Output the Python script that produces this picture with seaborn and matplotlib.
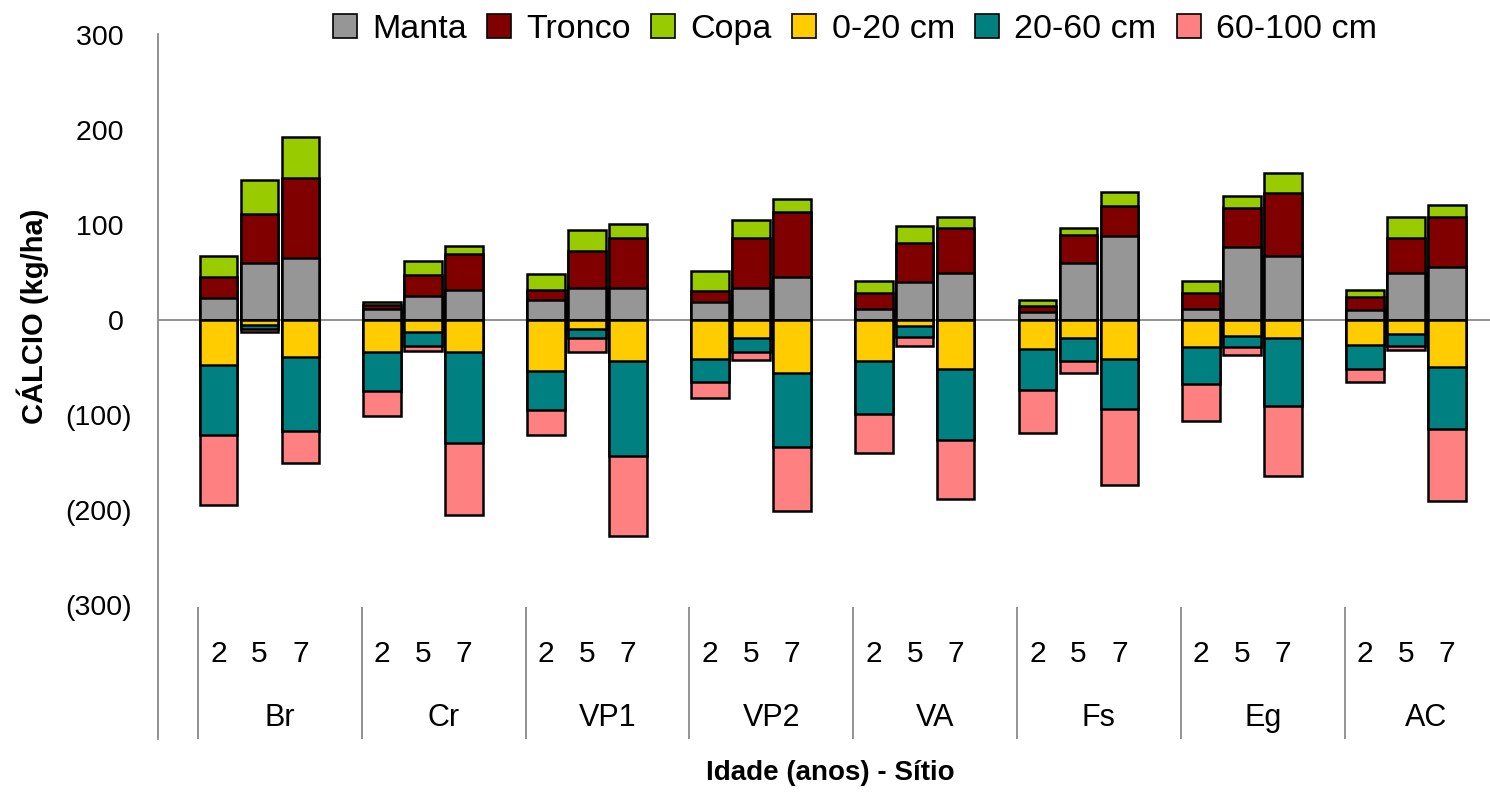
import numpy as np
import pandas as pd
import matplotlib
matplotlib.use("Agg")
import matplotlib.pyplot as plt
from matplotlib.patches import Patch
from matplotlib.ticker import FuncFormatter
import seaborn as sns

# Sites and stand ages (years)
sites = ["Br", "Cr", "VP1", "VP2", "VA", "Fs", "Eg", "AC"]
ages = ["2", "5", "7"]

# Calcium stocks in biomass (kg/ha), one value per site x age
manta = [23, 60, 65, 12, 25, 32, 21, 34, 34, 19, 34, 45,
         12, 40, 49, 8, 60, 88, 12, 77, 67, 11, 49, 56]
tronco = [22, 52, 84, 4, 22, 37, 11, 39, 52, 11, 52, 69,
          16, 41, 48, 7, 29, 32, 16, 41, 67, 13, 37, 52]
copa = [22, 35, 44, 3, 15, 9, 16, 22, 15, 22, 19, 13,
        13, 18, 11, 6, 8, 15, 13, 13, 21, 8, 22, 13]

# Calcium balance in soil layers (kg/ha, negative = depletion)
solo_0_20 = [-47, -5, -39, -34, -13, -34, -54, -10, -43, -41, -19, -56,
             -43, -6, -52, -31, -19, -41, -28, -17, -19, -26, -15, -50]
solo_20_60 = [-74, -5, -78, -41, -14, -95, -41, -9, -100, -24, -15, -78,
              -56, -12, -74, -43, -24, -53, -39, -11, -71, -26, -12, -65]
solo_60_100 = [-74, -3, -34, -26, -6, -76, -26, -15, -84, -17, -8, -67,
               -41, -9, -62, -45, -13, -80, -39, -9, -74, -13, -5, -75]

series_names = ["Manta", "Tronco", "Copa", "0-20 cm", "20-60 cm", "60-100 cm"]
series_colors = ["#969696", "#800000", "#99CC00", "#FFCC00", "#008080", "#FF8080"]

sns.set_style("white")
plt.rcParams["font.family"] = ["Liberation Sans", "DejaVu Sans"]
plt.rcParams.update({"text.color": "black", "axes.labelcolor": "black",
                     "xtick.color": "black", "ytick.color": "black"})

# Bar positions: three ages per site, plus one empty slot between sites
site_idx = np.repeat(np.arange(len(sites)), len(ages))
age_idx = np.tile(np.arange(len(ages)), len(sites))
pos = site_idx * 4 + age_idx

df = pd.DataFrame({
    "pos": pos,
    "site": [sites[i] for i in site_idx],
    "idade": [ages[i] for i in age_idx],
    "Manta": manta, "Tronco": tronco, "Copa": copa,
    "0-20 cm": solo_0_20, "20-60 cm": solo_20_60, "60-100 cm": solo_60_100,
})

fig = plt.figure(figsize=(14.9, 7.93), dpi=100)
ax = fig.add_axes([158 / 1490, 54 / 793, 1 - 158 / 1490, (739 - 34) / 793])

ax.axhline(0, color="#7f7f7f", lw=1.2, zorder=0)

# Stacked bars: draw cumulative totals from the outermost layer inwards
def draw_stack(cols, colors):
    cum = df[cols].cumsum(axis=1)
    for col, colr in list(zip(cols, colors))[::-1]:
        sns.barplot(x=df["pos"], y=cum[col], native_scale=True, color=colr,
                    saturation=1, edgecolor="black", linewidth=1.8,
                    width=0.92, errorbar=None, ax=ax)

draw_stack(["Manta", "Tronco", "Copa"], series_colors[:3])
draw_stack(["0-20 cm", "20-60 cm", "60-100 cm"], series_colors[3:])

ax.set_xlim(-1.477, 31.05)
ax.set_ylim(-441, 301)
ax.set_yticks([300, 200, 100, 0, -100, -200, -300])
ax.yaxis.set_major_formatter(FuncFormatter(
    lambda v, p: f"({abs(v):.0f})" if v < 0 else f"{v:.0f} "))
ax.tick_params(axis="y", length=0, pad=19, labelsize=20.5)
ax.set_xticks([])
ax.set_xlabel("")
ax.set_ylabel("")

for s in ["top", "right", "bottom"]:
    ax.spines[s].set_visible(False)
ax.spines["left"].set_color("#7f7f7f")
ax.spines["left"].set_linewidth(1.2)

# Category axis: ages, sites and group separators below the plot
for k, site in enumerate(sites):
    ax.vlines(k * 4 - 0.5, -302, -441, color="#7f7f7f", lw=1.2, clip_on=False)
    ax.text(k * 4 + 1.5, -419, site, ha="center", va="center", fontsize=22)
for p, a in zip(pos, df["idade"]):
    ax.text(p, -352, a, ha="center", va="center", fontsize=21.5)

fig.text(830 / 1490, 1 - 773 / 793, "Idade (anos) - Sítio", ha="center",
         va="center", fontsize=20, fontweight="bold")
fig.text(33 / 1490, 1 - 316 / 793, "CÁLCIO (kg/ha)", ha="center", va="center",
         rotation=90, fontsize=21, fontweight="bold")

handles = [Patch(facecolor=c, edgecolor="black", linewidth=1.2, label=n)
           for n, c in zip(series_names, series_colors)]
fig.legend(handles=handles, ncol=6, loc="upper center",
           bbox_to_anchor=(855 / 1490, 1.0), frameon=False, fontsize=24.5,
           handlelength=0.7, handleheight=0.7, handletextpad=0.45,
           columnspacing=0.6, borderaxespad=0.0)

fig.savefig("out.png", dpi=100)
